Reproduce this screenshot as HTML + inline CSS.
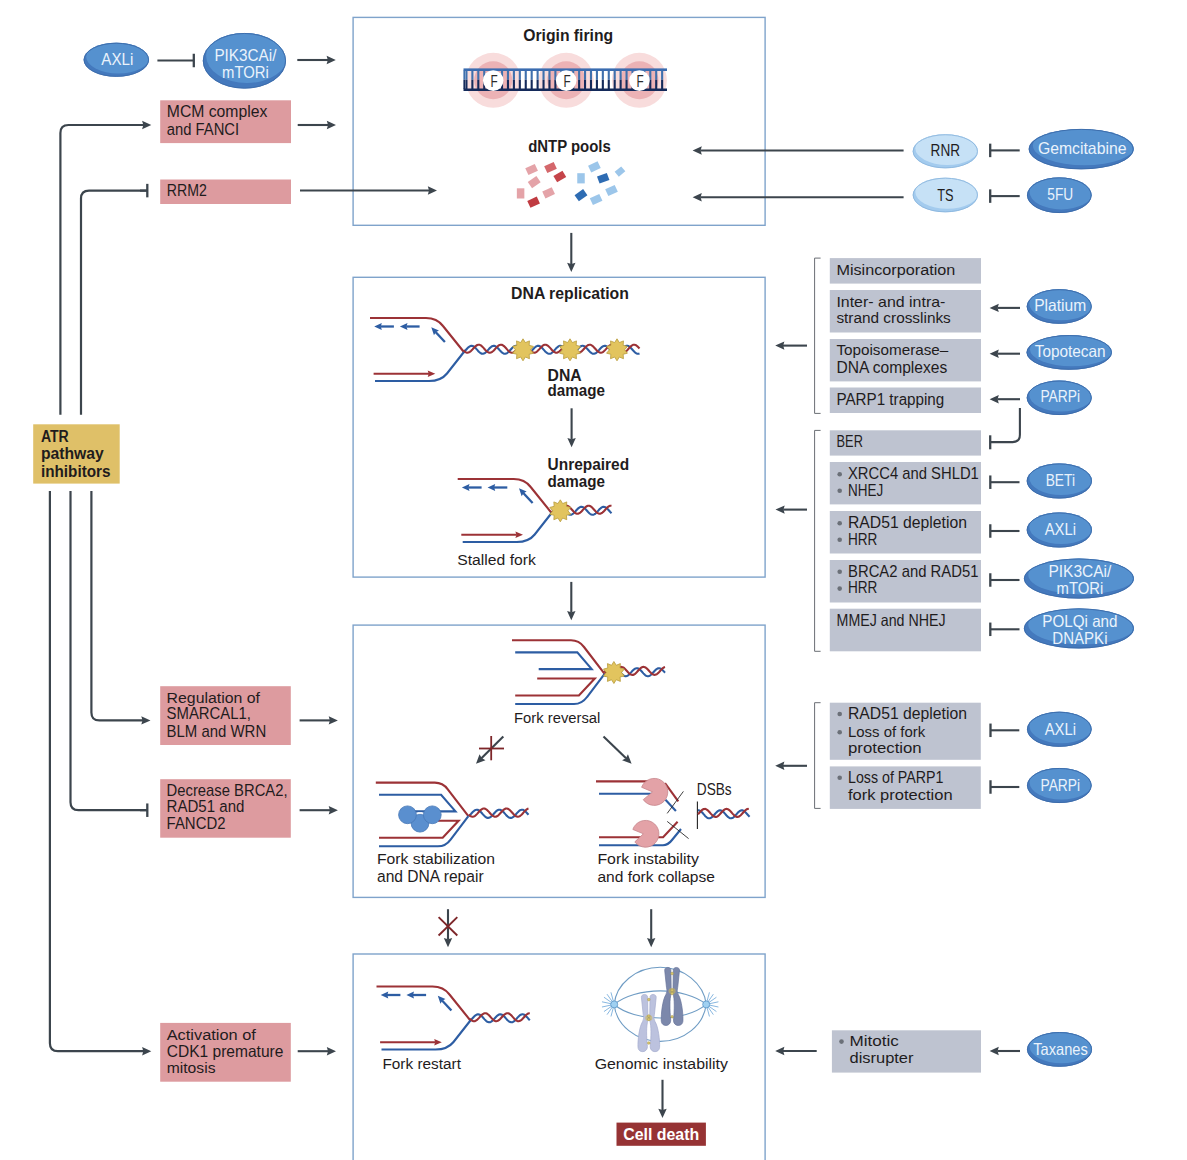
<!DOCTYPE html><html><head><meta charset="utf-8"><style>html,body{margin:0;padding:0;background:#fff;width:1187px;height:1160px;overflow:hidden}svg{display:block}text{font-family:"Liberation Sans",sans-serif}</style></head><body><svg width="1187" height="1160" viewBox="0 0 1187 1160" font-family="Liberation Sans, sans-serif">
<rect width="1187" height="1160" fill="#fff"/>
<rect x="353.1" y="17.40" width="412" height="207.90" fill="none" stroke="#7fa3cb" stroke-width="1.4"/>
<rect x="353.1" y="277.30" width="412" height="299.80" fill="none" stroke="#7fa3cb" stroke-width="1.4"/>
<rect x="353.1" y="625.10" width="412" height="272.30" fill="none" stroke="#7fa3cb" stroke-width="1.4"/>
<rect x="353.1" y="954.00" width="412" height="221.00" fill="none" stroke="#7fa3cb" stroke-width="1.4"/>
<line x1="571.30" y1="232.90" x2="571.30" y2="264.20" stroke="#3c454d" stroke-width="2.1"/>
<path d="M571.30 271.90L575.50 262.70L571.30 263.90L567.10 262.70Z" fill="#3c454d"/>
<line x1="571.30" y1="581.90" x2="571.30" y2="612.50" stroke="#3c454d" stroke-width="2.1"/>
<path d="M571.30 620.20L575.50 611.00L571.30 612.20L567.10 611.00Z" fill="#3c454d"/>
<line x1="448.00" y1="909.20" x2="448.00" y2="939.50" stroke="#3c454d" stroke-width="2.1"/>
<path d="M448.00 947.20L452.20 938.00L448.00 939.20L443.80 938.00Z" fill="#3c454d"/>
<line x1="651.20" y1="909.20" x2="651.20" y2="939.50" stroke="#3c454d" stroke-width="2.1"/>
<path d="M651.20 947.20L655.40 938.00L651.20 939.20L647.00 938.00Z" fill="#3c454d"/>
<line x1="438.6" y1="917.1" x2="457.3" y2="935.5" stroke="#7d2629" stroke-width="1.9"/>
<line x1="457.3" y1="917.1" x2="438.6" y2="935.5" stroke="#7d2629" stroke-width="1.9"/>
<clipPath id="c1"><ellipse cx="116.30" cy="59.80" rx="32.70" ry="17.00"/></clipPath>
<ellipse cx="116.30" cy="59.80" rx="32.70" ry="17.00" fill="#4479bd"/>
<ellipse clip-path="url(#c1)" cx="118.26" cy="56.74" rx="32.05" ry="16.66" fill="#5591cf"/>
<ellipse cx="116.30" cy="59.80" rx="32.25" ry="16.55" fill="none" stroke="#3b6aa8" stroke-width="0.9"/>
<text x="117.30" y="64.50" font-size="16.5" fill="#eaf3fc" text-anchor="middle" textLength="32.0" lengthAdjust="spacingAndGlyphs">AXLi</text>
<line x1="157.40" y1="60.50" x2="193.80" y2="60.50" stroke="#3c454d" stroke-width="2.1"/>
<line x1="193.80" y1="67.25" x2="193.80" y2="53.75" stroke="#3c454d" stroke-width="2.3"/>
<clipPath id="c2"><ellipse cx="244.40" cy="60.80" rx="41.60" ry="27.80"/></clipPath>
<ellipse cx="244.40" cy="60.80" rx="41.60" ry="27.80" fill="#4479bd"/>
<ellipse clip-path="url(#c2)" cx="246.90" cy="55.80" rx="40.77" ry="27.24" fill="#5591cf"/>
<ellipse cx="244.40" cy="60.80" rx="41.15" ry="27.35" fill="none" stroke="#3b6aa8" stroke-width="0.9"/>
<text x="245.40" y="61.00" font-size="16.5" fill="#eaf3fc" text-anchor="middle" textLength="62.0" lengthAdjust="spacingAndGlyphs">PIK3CAi/</text>
<text x="245.40" y="77.90" font-size="16.5" fill="#eaf3fc" text-anchor="middle" textLength="46.8" lengthAdjust="spacingAndGlyphs">mTORi</text>
<line x1="297.30" y1="60.00" x2="328.10" y2="60.00" stroke="#3c454d" stroke-width="2.1"/>
<path d="M335.80 60.00L326.60 55.80L327.80 60.00L326.60 64.20Z" fill="#3c454d"/>
<rect x="160.20" y="100.30" width="130.80" height="42.80" fill="#dd9b9f"/>
<text x="166.80" y="116.80" font-size="15.66" fill="#1f1c1d" textLength="100.5" lengthAdjust="spacingAndGlyphs">MCM complex</text>
<text x="166.80" y="134.50" font-size="16.15" fill="#1f1c1d" textLength="72.3" lengthAdjust="spacingAndGlyphs">and FANCI</text>
<line x1="297.70" y1="125.00" x2="328.30" y2="125.00" stroke="#3c454d" stroke-width="2.1"/>
<path d="M336.00 125.00L326.80 120.80L328.00 125.00L326.80 129.20Z" fill="#3c454d"/>
<rect x="160.20" y="179.50" width="130.80" height="24.50" fill="#dd9b9f"/>
<text x="166.80" y="196.20" font-size="16.72" fill="#1f1c1d" textLength="40.0" lengthAdjust="spacingAndGlyphs">RRM2</text>
<line x1="300" y1="190.5" x2="430" y2="190.5" stroke="#3c454d" stroke-width="2.1"/>
<path d="M437.00 190.50L427.80 186.30L429.00 190.50L427.80 194.70Z" fill="#3c454d"/>
<rect x="33.20" y="424.30" width="86.50" height="59.30" fill="#dfc068"/>
<text x="40.90" y="441.80" font-size="16" fill="#1f1c1d" font-weight="bold" textLength="27.9" lengthAdjust="spacingAndGlyphs">ATR</text>
<text x="40.90" y="459.30" font-size="16" fill="#1f1c1d" font-weight="bold" textLength="62.9" lengthAdjust="spacingAndGlyphs">pathway</text>
<text x="40.90" y="476.80" font-size="16" fill="#1f1c1d" font-weight="bold" textLength="69.7" lengthAdjust="spacingAndGlyphs">inhibitors</text>
<path d="M60.40 414.80L60.40 133.00Q60.40 125.00 68.40 125.00L145.00 125.00" fill="none" stroke="#3c454d" stroke-width="2.2"/>
<path d="M151.30 125.00L142.10 120.80L143.30 125.00L142.10 129.20Z" fill="#3c454d"/>
<path d="M81.00 414.80L81.00 198.60Q81.00 190.60 89.00 190.60L147.30 190.60" fill="none" stroke="#3c454d" stroke-width="2.2"/>
<line x1="140.00" y1="190.60" x2="147.30" y2="190.60" stroke="#3c454d" stroke-width="2.1"/>
<line x1="147.30" y1="197.35" x2="147.30" y2="183.85" stroke="#3c454d" stroke-width="2.3"/>
<path d="M91.40 491.00L91.40 712.40Q91.40 720.40 99.40 720.40L145.00 720.40" fill="none" stroke="#3c454d" stroke-width="2.2"/>
<path d="M150.50 720.40L141.30 716.20L142.50 720.40L141.30 724.60Z" fill="#3c454d"/>
<path d="M70.50 491.00L70.50 802.20Q70.50 810.20 78.50 810.20L147.30 810.20" fill="none" stroke="#3c454d" stroke-width="2.2"/>
<line x1="140.00" y1="810.20" x2="147.30" y2="810.20" stroke="#3c454d" stroke-width="2.1"/>
<line x1="147.30" y1="816.95" x2="147.30" y2="803.45" stroke="#3c454d" stroke-width="2.3"/>
<path d="M49.90 491.00L49.90 1043.20Q49.90 1051.20 57.90 1051.20L145.00 1051.20" fill="none" stroke="#3c454d" stroke-width="2.2"/>
<path d="M151.30 1051.20L142.10 1047.00L143.30 1051.20L142.10 1055.40Z" fill="#3c454d"/>
<rect x="160.20" y="686.20" width="130.60" height="58.80" fill="#dd9b9f"/>
<text x="166.60" y="702.80" font-size="15.33" fill="#1f1c1d" textLength="93.4" lengthAdjust="spacingAndGlyphs">Regulation of</text>
<text x="166.60" y="719.30" font-size="16.72" fill="#1f1c1d" textLength="84.4" lengthAdjust="spacingAndGlyphs">SMARCAL1,</text>
<text x="166.60" y="736.60" font-size="16.21" fill="#1f1c1d" textLength="99.6" lengthAdjust="spacingAndGlyphs">BLM and WRN</text>
<line x1="299.60" y1="720.40" x2="330.20" y2="720.40" stroke="#3c454d" stroke-width="2.1"/>
<path d="M337.90 720.40L328.70 716.20L329.90 720.40L328.70 724.60Z" fill="#3c454d"/>
<rect x="160.20" y="779.20" width="130.60" height="58.50" fill="#dd9b9f"/>
<text x="166.60" y="795.60" font-size="15.9" fill="#1f1c1d" textLength="121.0" lengthAdjust="spacingAndGlyphs">Decrease BRCA2,</text>
<text x="166.60" y="812.40" font-size="16.15" fill="#1f1c1d" textLength="77.8" lengthAdjust="spacingAndGlyphs">RAD51 and</text>
<text x="166.60" y="829.00" font-size="16.72" fill="#1f1c1d" textLength="58.9" lengthAdjust="spacingAndGlyphs">FANCD2</text>
<line x1="299.60" y1="810.20" x2="330.20" y2="810.20" stroke="#3c454d" stroke-width="2.1"/>
<path d="M337.90 810.20L328.70 806.00L329.90 810.20L328.70 814.40Z" fill="#3c454d"/>
<rect x="160.20" y="1022.90" width="130.60" height="58.80" fill="#dd9b9f"/>
<text x="166.70" y="1039.90" font-size="15.33" fill="#1f1c1d" textLength="89.2" lengthAdjust="spacingAndGlyphs">Activation of</text>
<text x="166.70" y="1057.20" font-size="15.67" fill="#1f1c1d" textLength="116.7" lengthAdjust="spacingAndGlyphs">CDK1 premature</text>
<text x="166.70" y="1073.30" font-size="15.2" fill="#1f1c1d" textLength="48.8" lengthAdjust="spacingAndGlyphs">mitosis</text>
<line x1="297.70" y1="1051.20" x2="328.30" y2="1051.20" stroke="#3c454d" stroke-width="2.1"/>
<path d="M336.00 1051.20L326.80 1047.00L328.00 1051.20L326.80 1055.40Z" fill="#3c454d"/>
<clipPath id="c3"><ellipse cx="945.30" cy="151.30" rx="32.60" ry="17.00"/></clipPath>
<ellipse cx="945.30" cy="151.30" rx="32.60" ry="17.00" fill="#a3cbee"/>
<ellipse clip-path="url(#c3)" cx="947.26" cy="148.24" rx="31.95" ry="16.66" fill="#c6e1f6"/>
<ellipse cx="945.30" cy="151.30" rx="32.15" ry="16.55" fill="none" stroke="#8cb7de" stroke-width="0.9"/>
<text x="945.30" y="156.40" font-size="16.5" fill="#1f1c1d" text-anchor="middle" textLength="29.4" lengthAdjust="spacingAndGlyphs">RNR</text>
<clipPath id="c4"><ellipse cx="945.30" cy="195.00" rx="32.60" ry="17.25"/></clipPath>
<ellipse cx="945.30" cy="195.00" rx="32.60" ry="17.25" fill="#a3cbee"/>
<ellipse clip-path="url(#c4)" cx="947.26" cy="191.90" rx="31.95" ry="16.91" fill="#c6e1f6"/>
<ellipse cx="945.30" cy="195.00" rx="32.15" ry="16.80" fill="none" stroke="#8cb7de" stroke-width="0.9"/>
<text x="945.30" y="200.60" font-size="16.5" fill="#1f1c1d" text-anchor="middle" textLength="16.3" lengthAdjust="spacingAndGlyphs">TS</text>
<line x1="903.60" y1="150.50" x2="700.30" y2="150.50" stroke="#3c454d" stroke-width="2.1"/>
<path d="M692.60 150.50L701.80 154.70L700.60 150.50L701.80 146.30Z" fill="#3c454d"/>
<line x1="903.60" y1="197.30" x2="700.30" y2="197.30" stroke="#3c454d" stroke-width="2.1"/>
<path d="M692.60 197.30L701.80 201.50L700.60 197.30L701.80 193.10Z" fill="#3c454d"/>
<line x1="1019.70" y1="150.40" x2="990.20" y2="150.40" stroke="#3c454d" stroke-width="2.1"/>
<line x1="990.20" y1="143.65" x2="990.20" y2="157.15" stroke="#3c454d" stroke-width="2.3"/>
<line x1="1019.70" y1="196.10" x2="990.20" y2="196.10" stroke="#3c454d" stroke-width="2.1"/>
<line x1="990.20" y1="189.35" x2="990.20" y2="202.85" stroke="#3c454d" stroke-width="2.3"/>
<clipPath id="c5"><ellipse cx="1081.20" cy="149.10" rx="52.50" ry="20.20"/></clipPath>
<ellipse cx="1081.20" cy="149.10" rx="52.50" ry="20.20" fill="#4479bd"/>
<ellipse clip-path="url(#c5)" cx="1084.35" cy="145.46" rx="51.45" ry="19.80" fill="#5591cf"/>
<ellipse cx="1081.20" cy="149.10" rx="52.05" ry="19.75" fill="none" stroke="#3b6aa8" stroke-width="0.9"/>
<text x="1082.20" y="153.80" font-size="16.5" fill="#eaf3fc" text-anchor="middle" textLength="88.6" lengthAdjust="spacingAndGlyphs">Gemcitabine</text>
<clipPath id="c6"><ellipse cx="1059.30" cy="195.20" rx="32.30" ry="17.80"/></clipPath>
<ellipse cx="1059.30" cy="195.20" rx="32.30" ry="17.80" fill="#4479bd"/>
<ellipse clip-path="url(#c6)" cx="1061.24" cy="192.00" rx="31.65" ry="17.44" fill="#5591cf"/>
<ellipse cx="1059.30" cy="195.20" rx="31.85" ry="17.35" fill="none" stroke="#3b6aa8" stroke-width="0.9"/>
<text x="1060.30" y="200.00" font-size="16.5" fill="#eaf3fc" text-anchor="middle" textLength="25.9" lengthAdjust="spacingAndGlyphs">5FU</text>
<path d="M820.60 258.10H814.60V413.40H820.60" fill="none" stroke="#6a6e74" stroke-width="1"/>
<path d="M820.60 430.40H814.60V651.30H820.60" fill="none" stroke="#6a6e74" stroke-width="1"/>
<path d="M820.60 702.70H814.60V808.40H820.60" fill="none" stroke="#6a6e74" stroke-width="1"/>
<rect x="829.80" y="258.10" width="151.20" height="25.50" fill="#bec3d0"/>
<rect x="829.80" y="290.00" width="151.20" height="42.50" fill="#bec3d0"/>
<rect x="829.80" y="339.00" width="151.20" height="42.40" fill="#bec3d0"/>
<rect x="829.80" y="387.50" width="151.20" height="25.50" fill="#bec3d0"/>
<text x="836.40" y="274.70" font-size="15.29" fill="#1f1c1d" textLength="119.0" lengthAdjust="spacingAndGlyphs">Misincorporation</text>
<text x="836.40" y="306.60" font-size="15.32" fill="#1f1c1d" textLength="109.0" lengthAdjust="spacingAndGlyphs">Inter- and intra-</text>
<text x="836.40" y="323.20" font-size="15.2" fill="#1f1c1d" textLength="114.4" lengthAdjust="spacingAndGlyphs">strand crosslinks</text>
<text x="836.40" y="355.00" font-size="15.32" fill="#1f1c1d" textLength="111.9" lengthAdjust="spacingAndGlyphs">Topoisomerase–</text>
<text x="836.40" y="372.50" font-size="15.58" fill="#1f1c1d" textLength="110.8" lengthAdjust="spacingAndGlyphs">DNA complexes</text>
<text x="836.40" y="404.70" font-size="15.78" fill="#1f1c1d" textLength="107.9" lengthAdjust="spacingAndGlyphs">PARP1 trapping</text>
<line x1="807.00" y1="345.60" x2="782.90" y2="345.60" stroke="#3c454d" stroke-width="2.1"/>
<path d="M775.20 345.60L784.40 349.80L783.20 345.60L784.40 341.40Z" fill="#3c454d"/>
<clipPath id="c7"><ellipse cx="1059.20" cy="306.50" rx="32.50" ry="17.30"/></clipPath>
<ellipse cx="1059.20" cy="306.50" rx="32.50" ry="17.30" fill="#4479bd"/>
<ellipse clip-path="url(#c7)" cx="1061.15" cy="303.39" rx="31.85" ry="16.95" fill="#5591cf"/>
<ellipse cx="1059.20" cy="306.50" rx="32.05" ry="16.85" fill="none" stroke="#3b6aa8" stroke-width="0.9"/>
<text x="1060.20" y="311.00" font-size="16.5" fill="#eaf3fc" text-anchor="middle" textLength="52.0" lengthAdjust="spacingAndGlyphs">Platium</text>
<clipPath id="c8"><ellipse cx="1069.20" cy="352.40" rx="42.70" ry="17.30"/></clipPath>
<ellipse cx="1069.20" cy="352.40" rx="42.70" ry="17.30" fill="#4479bd"/>
<ellipse clip-path="url(#c8)" cx="1071.76" cy="349.29" rx="41.85" ry="16.95" fill="#5591cf"/>
<ellipse cx="1069.20" cy="352.40" rx="42.25" ry="16.85" fill="none" stroke="#3b6aa8" stroke-width="0.9"/>
<text x="1070.20" y="357.00" font-size="16.5" fill="#eaf3fc" text-anchor="middle" textLength="71.0" lengthAdjust="spacingAndGlyphs">Topotecan</text>
<clipPath id="c9"><ellipse cx="1059.20" cy="397.80" rx="32.50" ry="17.20"/></clipPath>
<ellipse cx="1059.20" cy="397.80" rx="32.50" ry="17.20" fill="#4479bd"/>
<ellipse clip-path="url(#c9)" cx="1061.15" cy="394.70" rx="31.85" ry="16.86" fill="#5591cf"/>
<ellipse cx="1059.20" cy="397.80" rx="32.05" ry="16.75" fill="none" stroke="#3b6aa8" stroke-width="0.9"/>
<text x="1060.20" y="402.40" font-size="16.5" fill="#eaf3fc" text-anchor="middle" textLength="39.6" lengthAdjust="spacingAndGlyphs">PARPi</text>
<line x1="1020.00" y1="307.90" x2="997.30" y2="307.90" stroke="#3c454d" stroke-width="2.1"/>
<path d="M989.60 307.90L998.80 312.10L997.60 307.90L998.80 303.70Z" fill="#3c454d"/>
<line x1="1020.00" y1="353.70" x2="997.30" y2="353.70" stroke="#3c454d" stroke-width="2.1"/>
<path d="M989.60 353.70L998.80 357.90L997.60 353.70L998.80 349.50Z" fill="#3c454d"/>
<line x1="1020.00" y1="399.20" x2="997.30" y2="399.20" stroke="#3c454d" stroke-width="2.1"/>
<path d="M989.60 399.20L998.80 403.40L997.60 399.20L998.80 395.00Z" fill="#3c454d"/>
<path d="M1019.9 408V434.8Q1019.9 442.1 1012.6 442.1H990" fill="none" stroke="#3c454d" stroke-width="2.1"/>
<line x1="990.2" y1="435.3" x2="990.2" y2="449.3" stroke="#3c454d" stroke-width="2.3"/>
<rect x="829.80" y="430.30" width="151.20" height="25.30" fill="#bec3d0"/>
<rect x="829.80" y="462.00" width="151.20" height="42.40" fill="#bec3d0"/>
<rect x="829.80" y="511.00" width="151.20" height="42.50" fill="#bec3d0"/>
<rect x="829.80" y="560.00" width="151.20" height="42.50" fill="#bec3d0"/>
<rect x="829.80" y="608.70" width="151.20" height="42.60" fill="#bec3d0"/>
<text x="836.60" y="446.50" font-size="16.72" fill="#1f1c1d" textLength="26.3" lengthAdjust="spacingAndGlyphs">BER</text>
<circle cx="839.70" cy="474.20" r="2.3" fill="#6b7078"/>
<text x="848.00" y="479.00" font-size="16.37" fill="#1f1c1d" textLength="130.8" lengthAdjust="spacingAndGlyphs">XRCC4 and SHLD1</text>
<circle cx="839.70" cy="490.70" r="2.3" fill="#6b7078"/>
<text x="848.00" y="495.50" font-size="16.72" fill="#1f1c1d" textLength="35.2" lengthAdjust="spacingAndGlyphs">NHEJ</text>
<circle cx="839.70" cy="523.20" r="2.3" fill="#6b7078"/>
<text x="848.00" y="528.00" font-size="15.74" fill="#1f1c1d" textLength="119.0" lengthAdjust="spacingAndGlyphs">RAD51 depletion</text>
<circle cx="839.70" cy="539.80" r="2.3" fill="#6b7078"/>
<text x="848.00" y="544.60" font-size="16.72" fill="#1f1c1d" textLength="29.4" lengthAdjust="spacingAndGlyphs">HRR</text>
<circle cx="839.70" cy="571.80" r="2.3" fill="#6b7078"/>
<text x="848.00" y="576.60" font-size="16.37" fill="#1f1c1d" textLength="130.4" lengthAdjust="spacingAndGlyphs">BRCA2 and RAD51</text>
<circle cx="839.70" cy="588.60" r="2.3" fill="#6b7078"/>
<text x="848.00" y="593.40" font-size="16.72" fill="#1f1c1d" textLength="29.4" lengthAdjust="spacingAndGlyphs">HRR</text>
<text x="836.60" y="625.90" font-size="16.31" fill="#1f1c1d" textLength="109.0" lengthAdjust="spacingAndGlyphs">MMEJ and NHEJ</text>
<line x1="807.00" y1="509.60" x2="783.20" y2="509.60" stroke="#3c454d" stroke-width="2.1"/>
<path d="M775.50 509.60L784.70 513.80L783.50 509.60L784.70 505.40Z" fill="#3c454d"/>
<line x1="1019.50" y1="482.20" x2="990.30" y2="482.20" stroke="#3c454d" stroke-width="2.1"/>
<line x1="990.30" y1="475.45" x2="990.30" y2="488.95" stroke="#3c454d" stroke-width="2.3"/>
<line x1="1019.50" y1="531.00" x2="990.30" y2="531.00" stroke="#3c454d" stroke-width="2.1"/>
<line x1="990.30" y1="524.25" x2="990.30" y2="537.75" stroke="#3c454d" stroke-width="2.3"/>
<line x1="1019.50" y1="580.00" x2="990.30" y2="580.00" stroke="#3c454d" stroke-width="2.1"/>
<line x1="990.30" y1="573.25" x2="990.30" y2="586.75" stroke="#3c454d" stroke-width="2.3"/>
<line x1="1019.50" y1="629.30" x2="990.30" y2="629.30" stroke="#3c454d" stroke-width="2.1"/>
<line x1="990.30" y1="622.55" x2="990.30" y2="636.05" stroke="#3c454d" stroke-width="2.3"/>
<clipPath id="c10"><ellipse cx="1059.30" cy="481.00" rx="32.60" ry="17.50"/></clipPath>
<ellipse cx="1059.30" cy="481.00" rx="32.60" ry="17.50" fill="#4479bd"/>
<ellipse clip-path="url(#c10)" cx="1061.26" cy="477.85" rx="31.95" ry="17.15" fill="#5591cf"/>
<ellipse cx="1059.30" cy="481.00" rx="32.15" ry="17.05" fill="none" stroke="#3b6aa8" stroke-width="0.9"/>
<text x="1060.30" y="486.00" font-size="16.5" fill="#eaf3fc" text-anchor="middle" textLength="29.3" lengthAdjust="spacingAndGlyphs">BETi</text>
<clipPath id="c11"><ellipse cx="1059.30" cy="530.00" rx="32.60" ry="17.50"/></clipPath>
<ellipse cx="1059.30" cy="530.00" rx="32.60" ry="17.50" fill="#4479bd"/>
<ellipse clip-path="url(#c11)" cx="1061.26" cy="526.85" rx="31.95" ry="17.15" fill="#5591cf"/>
<ellipse cx="1059.30" cy="530.00" rx="32.15" ry="17.05" fill="none" stroke="#3b6aa8" stroke-width="0.9"/>
<text x="1060.30" y="534.80" font-size="16.5" fill="#eaf3fc" text-anchor="middle" textLength="31.3" lengthAdjust="spacingAndGlyphs">AXLi</text>
<clipPath id="c12"><ellipse cx="1078.90" cy="578.60" rx="55.00" ry="20.00"/></clipPath>
<ellipse cx="1078.90" cy="578.60" rx="55.00" ry="20.00" fill="#4479bd"/>
<ellipse clip-path="url(#c12)" cx="1082.20" cy="575.00" rx="53.90" ry="19.60" fill="#5591cf"/>
<ellipse cx="1078.90" cy="578.60" rx="54.55" ry="19.55" fill="none" stroke="#3b6aa8" stroke-width="0.9"/>
<text x="1079.90" y="576.80" font-size="16.5" fill="#eaf3fc" text-anchor="middle" textLength="63.0" lengthAdjust="spacingAndGlyphs">PIK3CAi/</text>
<text x="1079.90" y="594.00" font-size="16.5" fill="#eaf3fc" text-anchor="middle" textLength="46.7" lengthAdjust="spacingAndGlyphs">mTORi</text>
<clipPath id="c13"><ellipse cx="1078.90" cy="628.40" rx="55.00" ry="20.00"/></clipPath>
<ellipse cx="1078.90" cy="628.40" rx="55.00" ry="20.00" fill="#4479bd"/>
<ellipse clip-path="url(#c13)" cx="1082.20" cy="624.80" rx="53.90" ry="19.60" fill="#5591cf"/>
<ellipse cx="1078.90" cy="628.40" rx="54.55" ry="19.55" fill="none" stroke="#3b6aa8" stroke-width="0.9"/>
<text x="1079.90" y="626.50" font-size="16.5" fill="#eaf3fc" text-anchor="middle" textLength="75.2" lengthAdjust="spacingAndGlyphs">POLQi and</text>
<text x="1079.90" y="643.50" font-size="16.5" fill="#eaf3fc" text-anchor="middle" textLength="55.2" lengthAdjust="spacingAndGlyphs">DNAPKi</text>
<rect x="829.80" y="702.70" width="151.00" height="57.10" fill="#bec3d0"/>
<rect x="829.80" y="766.40" width="151.00" height="42.50" fill="#bec3d0"/>
<circle cx="839.70" cy="714.00" r="2.3" fill="#6b7078"/>
<text x="848.00" y="718.80" font-size="15.74" fill="#1f1c1d" textLength="119.0" lengthAdjust="spacingAndGlyphs">RAD51 depletion</text>
<circle cx="839.70" cy="732.20" r="2.3" fill="#6b7078"/>
<text x="848.00" y="737.00" font-size="15.35" fill="#1f1c1d" textLength="77.2" lengthAdjust="spacingAndGlyphs">Loss of fork</text>
<text x="848.00" y="753.20" font-size="15.2" fill="#1f1c1d" textLength="73.7" lengthAdjust="spacingAndGlyphs">protection</text>
<circle cx="839.70" cy="777.70" r="2.3" fill="#6b7078"/>
<text x="848.00" y="782.50" font-size="16.03" fill="#1f1c1d" textLength="95.5" lengthAdjust="spacingAndGlyphs">Loss of PARP1</text>
<text x="848.00" y="799.80" font-size="15.2" fill="#1f1c1d" textLength="104.6" lengthAdjust="spacingAndGlyphs">fork protection</text>
<line x1="807.00" y1="765.80" x2="782.90" y2="765.80" stroke="#3c454d" stroke-width="2.1"/>
<path d="M775.20 765.80L784.40 770.00L783.20 765.80L784.40 761.60Z" fill="#3c454d"/>
<line x1="1019.30" y1="730.30" x2="990.50" y2="730.30" stroke="#3c454d" stroke-width="2.1"/>
<line x1="990.50" y1="723.55" x2="990.50" y2="737.05" stroke="#3c454d" stroke-width="2.3"/>
<line x1="1019.30" y1="787.00" x2="990.50" y2="787.00" stroke="#3c454d" stroke-width="2.1"/>
<line x1="990.50" y1="780.25" x2="990.50" y2="793.75" stroke="#3c454d" stroke-width="2.3"/>
<clipPath id="c14"><ellipse cx="1059.30" cy="729.30" rx="32.30" ry="17.50"/></clipPath>
<ellipse cx="1059.30" cy="729.30" rx="32.30" ry="17.50" fill="#4479bd"/>
<ellipse clip-path="url(#c14)" cx="1061.24" cy="726.15" rx="31.65" ry="17.15" fill="#5591cf"/>
<ellipse cx="1059.30" cy="729.30" rx="31.85" ry="17.05" fill="none" stroke="#3b6aa8" stroke-width="0.9"/>
<text x="1060.30" y="735.00" font-size="16.5" fill="#eaf3fc" text-anchor="middle" textLength="31.3" lengthAdjust="spacingAndGlyphs">AXLi</text>
<clipPath id="c15"><ellipse cx="1059.30" cy="785.50" rx="32.30" ry="17.50"/></clipPath>
<ellipse cx="1059.30" cy="785.50" rx="32.30" ry="17.50" fill="#4479bd"/>
<ellipse clip-path="url(#c15)" cx="1061.24" cy="782.35" rx="31.65" ry="17.15" fill="#5591cf"/>
<ellipse cx="1059.30" cy="785.50" rx="31.85" ry="17.05" fill="none" stroke="#3b6aa8" stroke-width="0.9"/>
<text x="1060.30" y="791.20" font-size="16.5" fill="#eaf3fc" text-anchor="middle" textLength="39.6" lengthAdjust="spacingAndGlyphs">PARPi</text>
<rect x="831.90" y="1030.30" width="149.10" height="42.30" fill="#bec3d0"/>
<circle cx="841.50" cy="1041.60" r="2.3" fill="#6b7078"/>
<text x="849.50" y="1046.40" font-size="15.42" fill="#1f1c1d" textLength="49.4" lengthAdjust="spacingAndGlyphs">Mitotic</text>
<text x="849.50" y="1063.00" font-size="15.2" fill="#1f1c1d" textLength="64.0" lengthAdjust="spacingAndGlyphs">disrupter</text>
<line x1="816.70" y1="1051.00" x2="782.90" y2="1051.00" stroke="#3c454d" stroke-width="2.1"/>
<path d="M775.20 1051.00L784.40 1055.20L783.20 1051.00L784.40 1046.80Z" fill="#3c454d"/>
<line x1="1020.00" y1="1051.00" x2="997.30" y2="1051.00" stroke="#3c454d" stroke-width="2.1"/>
<path d="M989.60 1051.00L998.80 1055.20L997.60 1051.00L998.80 1046.80Z" fill="#3c454d"/>
<clipPath id="c16"><ellipse cx="1059.50" cy="1049.40" rx="32.50" ry="17.30"/></clipPath>
<ellipse cx="1059.50" cy="1049.40" rx="32.50" ry="17.30" fill="#4479bd"/>
<ellipse clip-path="url(#c16)" cx="1061.45" cy="1046.29" rx="31.85" ry="16.95" fill="#5591cf"/>
<ellipse cx="1059.50" cy="1049.40" rx="32.05" ry="16.85" fill="none" stroke="#3b6aa8" stroke-width="0.9"/>
<text x="1060.50" y="1055.00" font-size="16.5" fill="#eaf3fc" text-anchor="middle" textLength="54.6" lengthAdjust="spacingAndGlyphs">Taxanes</text>
<text x="568.20" y="41.20" font-size="16" fill="#1f1c1d" font-weight="bold" text-anchor="middle" textLength="90.0" lengthAdjust="spacingAndGlyphs">Origin firing</text>
<circle cx="493.20" cy="80.3" r="27.5" fill="#f8dcdc"/>
<circle cx="493.20" cy="80.3" r="19" fill="#ecb2b5"/>
<circle cx="566.20" cy="80.3" r="27.5" fill="#f8dcdc"/>
<circle cx="566.20" cy="80.3" r="19" fill="#ecb2b5"/>
<circle cx="639.40" cy="80.3" r="27.5" fill="#f8dcdc"/>
<circle cx="639.40" cy="80.3" r="19" fill="#ecb2b5"/>
<rect x="463.4" y="70.5" width="1.8" height="9.3" fill="#3f70ad"/><rect x="463.4" y="79.8" width="1.8" height="9.2" fill="#142a5a"/>
<rect x="465.40" y="70.5" width="2.1" height="9.3" fill="#3f70ad"/>
<rect x="465.40" y="79.8" width="2.1" height="9.2" fill="#142a5a"/>
<rect x="471.33" y="70.5" width="2.1" height="9.3" fill="#3f70ad"/>
<rect x="471.33" y="79.8" width="2.1" height="9.2" fill="#142a5a"/>
<rect x="477.26" y="70.5" width="2.1" height="9.3" fill="#3f70ad"/>
<rect x="477.26" y="79.8" width="2.1" height="9.2" fill="#142a5a"/>
<rect x="483.19" y="70.5" width="2.1" height="9.3" fill="#3f70ad"/>
<rect x="483.19" y="79.8" width="2.1" height="9.2" fill="#142a5a"/>
<rect x="489.12" y="70.5" width="2.1" height="9.3" fill="#3f70ad"/>
<rect x="489.12" y="79.8" width="2.1" height="9.2" fill="#142a5a"/>
<rect x="495.05" y="70.5" width="2.1" height="9.3" fill="#3f70ad"/>
<rect x="495.05" y="79.8" width="2.1" height="9.2" fill="#142a5a"/>
<rect x="500.98" y="70.5" width="2.1" height="9.3" fill="#3f70ad"/>
<rect x="500.98" y="79.8" width="2.1" height="9.2" fill="#142a5a"/>
<rect x="506.91" y="70.5" width="2.1" height="9.3" fill="#3f70ad"/>
<rect x="506.91" y="79.8" width="2.1" height="9.2" fill="#142a5a"/>
<rect x="512.84" y="70.5" width="2.1" height="9.3" fill="#3f70ad"/>
<rect x="512.84" y="79.8" width="2.1" height="9.2" fill="#142a5a"/>
<rect x="518.77" y="70.5" width="2.1" height="9.3" fill="#3f70ad"/>
<rect x="518.77" y="79.8" width="2.1" height="9.2" fill="#142a5a"/>
<rect x="524.70" y="70.5" width="2.1" height="9.3" fill="#3f70ad"/>
<rect x="524.70" y="79.8" width="2.1" height="9.2" fill="#142a5a"/>
<rect x="530.63" y="70.5" width="2.1" height="9.3" fill="#3f70ad"/>
<rect x="530.63" y="79.8" width="2.1" height="9.2" fill="#142a5a"/>
<rect x="536.56" y="70.5" width="2.1" height="9.3" fill="#3f70ad"/>
<rect x="536.56" y="79.8" width="2.1" height="9.2" fill="#142a5a"/>
<rect x="542.49" y="70.5" width="2.1" height="9.3" fill="#3f70ad"/>
<rect x="542.49" y="79.8" width="2.1" height="9.2" fill="#142a5a"/>
<rect x="548.42" y="70.5" width="2.1" height="9.3" fill="#3f70ad"/>
<rect x="548.42" y="79.8" width="2.1" height="9.2" fill="#142a5a"/>
<rect x="554.35" y="70.5" width="2.1" height="9.3" fill="#3f70ad"/>
<rect x="554.35" y="79.8" width="2.1" height="9.2" fill="#142a5a"/>
<rect x="560.28" y="70.5" width="2.1" height="9.3" fill="#3f70ad"/>
<rect x="560.28" y="79.8" width="2.1" height="9.2" fill="#142a5a"/>
<rect x="566.21" y="70.5" width="2.1" height="9.3" fill="#3f70ad"/>
<rect x="566.21" y="79.8" width="2.1" height="9.2" fill="#142a5a"/>
<rect x="572.14" y="70.5" width="2.1" height="9.3" fill="#3f70ad"/>
<rect x="572.14" y="79.8" width="2.1" height="9.2" fill="#142a5a"/>
<rect x="578.07" y="70.5" width="2.1" height="9.3" fill="#3f70ad"/>
<rect x="578.07" y="79.8" width="2.1" height="9.2" fill="#142a5a"/>
<rect x="584.00" y="70.5" width="2.1" height="9.3" fill="#3f70ad"/>
<rect x="584.00" y="79.8" width="2.1" height="9.2" fill="#142a5a"/>
<rect x="589.93" y="70.5" width="2.1" height="9.3" fill="#3f70ad"/>
<rect x="589.93" y="79.8" width="2.1" height="9.2" fill="#142a5a"/>
<rect x="595.86" y="70.5" width="2.1" height="9.3" fill="#3f70ad"/>
<rect x="595.86" y="79.8" width="2.1" height="9.2" fill="#142a5a"/>
<rect x="601.79" y="70.5" width="2.1" height="9.3" fill="#3f70ad"/>
<rect x="601.79" y="79.8" width="2.1" height="9.2" fill="#142a5a"/>
<rect x="607.72" y="70.5" width="2.1" height="9.3" fill="#3f70ad"/>
<rect x="607.72" y="79.8" width="2.1" height="9.2" fill="#142a5a"/>
<rect x="613.65" y="70.5" width="2.1" height="9.3" fill="#3f70ad"/>
<rect x="613.65" y="79.8" width="2.1" height="9.2" fill="#142a5a"/>
<rect x="619.58" y="70.5" width="2.1" height="9.3" fill="#3f70ad"/>
<rect x="619.58" y="79.8" width="2.1" height="9.2" fill="#142a5a"/>
<rect x="625.51" y="70.5" width="2.1" height="9.3" fill="#3f70ad"/>
<rect x="625.51" y="79.8" width="2.1" height="9.2" fill="#142a5a"/>
<rect x="631.44" y="70.5" width="2.1" height="9.3" fill="#3f70ad"/>
<rect x="631.44" y="79.8" width="2.1" height="9.2" fill="#142a5a"/>
<rect x="637.37" y="70.5" width="2.1" height="9.3" fill="#3f70ad"/>
<rect x="637.37" y="79.8" width="2.1" height="9.2" fill="#142a5a"/>
<rect x="643.30" y="70.5" width="2.1" height="9.3" fill="#3f70ad"/>
<rect x="643.30" y="79.8" width="2.1" height="9.2" fill="#142a5a"/>
<rect x="649.23" y="70.5" width="2.1" height="9.3" fill="#3f70ad"/>
<rect x="649.23" y="79.8" width="2.1" height="9.2" fill="#142a5a"/>
<rect x="655.16" y="70.5" width="2.1" height="9.3" fill="#3f70ad"/>
<rect x="655.16" y="79.8" width="2.1" height="9.2" fill="#142a5a"/>
<rect x="661.09" y="70.5" width="2.1" height="9.3" fill="#3f70ad"/>
<rect x="661.09" y="79.8" width="2.1" height="9.2" fill="#142a5a"/>
<rect x="463.5" y="68.4" width="203.5" height="2.6" fill="#3a6cb0"/>
<rect x="463.5" y="88.5" width="203.5" height="2.5" fill="#142a5a"/>
<circle cx="493.20" cy="80.6" r="10.3" fill="#fff"/>
<text x="494.00" y="86.80" font-size="16.5" fill="#2b2b2b" text-anchor="middle" textLength="7.2" lengthAdjust="spacingAndGlyphs">F</text>
<circle cx="566.20" cy="80.6" r="10.3" fill="#fff"/>
<text x="567.00" y="86.80" font-size="16.5" fill="#2b2b2b" text-anchor="middle" textLength="7.2" lengthAdjust="spacingAndGlyphs">F</text>
<circle cx="639.40" cy="80.6" r="10.3" fill="#fff"/>
<text x="640.20" y="86.80" font-size="16.5" fill="#2b2b2b" text-anchor="middle" textLength="7.2" lengthAdjust="spacingAndGlyphs">F</text>
<text x="569.50" y="152.00" font-size="16" fill="#1f1c1d" font-weight="bold" text-anchor="middle" textLength="82.6" lengthAdjust="spacingAndGlyphs">dNTP pools</text>
<rect x="526.35" y="165.75" width="10.50" height="7.50" fill="#e4a3a8" transform="rotate(-25 531.60 169.50)"/>
<rect x="545.25" y="163.75" width="10.50" height="7.50" fill="#d4676b" transform="rotate(-25 550.50 167.50)"/>
<rect x="554.55" y="172.75" width="10.50" height="7.50" fill="#c54449" transform="rotate(-30 559.80 176.50)"/>
<rect x="528.95" y="178.35" width="10.50" height="7.50" fill="#e4a3a8" transform="rotate(-35 534.20 182.10)"/>
<rect x="516.85" y="188.30" width="7.50" height="10.20" fill="#e4a3a8" transform="rotate(0 520.60 193.40)"/>
<rect x="543.35" y="189.05" width="10.50" height="7.50" fill="#e4a3a8" transform="rotate(-25 548.60 192.80)"/>
<rect x="528.35" y="198.45" width="10.50" height="7.50" fill="#c03b41" transform="rotate(-25 533.60 202.20)"/>
<rect x="589.15" y="163.15" width="10.50" height="7.50" fill="#9cc6ea" transform="rotate(-25 594.40 166.90)"/>
<rect x="615.75" y="168.35" width="8.50" height="6.50" fill="#9cc6ea" transform="rotate(-40 620.00 171.60)"/>
<rect x="577.25" y="173.20" width="7.50" height="10.20" fill="#9cc6ea" transform="rotate(0 581.00 178.30)"/>
<rect x="597.95" y="174.55" width="10.50" height="7.50" fill="#2e6cb3" transform="rotate(-20 603.20 178.30)"/>
<rect x="575.75" y="191.45" width="10.50" height="7.50" fill="#2e6cb3" transform="rotate(-35 581.00 195.20)"/>
<rect x="606.25" y="186.75" width="10.50" height="7.50" fill="#9cc6ea" transform="rotate(-25 611.50 190.50)"/>
<rect x="590.85" y="195.75" width="10.50" height="7.50" fill="#9cc6ea" transform="rotate(-25 596.10 199.50)"/>
<text x="570.00" y="298.90" font-size="16" fill="#1f1c1d" font-weight="bold" text-anchor="middle" textLength="117.8" lengthAdjust="spacingAndGlyphs">DNA replication</text>
<path d="M370.00 318.00H426.00Q437.00 318.00 443.00 326.00L464.30 352.50" fill="none" stroke="#9c3236" stroke-width="2.1"/>
<path d="M375.00 381.00H429.00Q441.00 381.00 447.00 373.50L464.30 351.50" fill="none" stroke="#2d5da3" stroke-width="2.1"/>
<line x1="373.60" y1="373.80" x2="429.00" y2="373.80" stroke="#9c3236" stroke-width="2.1"/>
<path d="M435.30 373.80L427.70 370.50L428.70 373.80L427.70 377.10Z" fill="#9c3236"/>
<line x1="393.90" y1="326.50" x2="380.50" y2="326.50" stroke="#2d5da3" stroke-width="2.3"/>
<path d="M374.20 326.50L381.80 329.90L380.80 326.50L381.80 323.10Z" fill="#2d5da3"/>
<line x1="419.60" y1="326.50" x2="406.20" y2="326.50" stroke="#2d5da3" stroke-width="2.3"/>
<path d="M399.90 326.50L407.50 329.90L406.50 326.50L407.50 323.10Z" fill="#2d5da3"/>
<line x1="444.90" y1="342.00" x2="435.58" y2="331.92" stroke="#2d5da3" stroke-width="2.3"/>
<path d="M431.30 327.30L433.97 335.19L435.78 332.14L438.96 330.57Z" fill="#2d5da3"/>
<path d="M463.50 352.44L464.20 351.80L464.90 351.08L465.60 350.31L466.29 349.52L466.99 348.75L467.69 348.01L468.39 347.34L469.09 346.77L469.79 346.32L470.48 346.00L471.18 345.83L471.88 345.81L472.58 345.95L473.28 346.24L473.98 346.67L474.67 347.22L475.37 347.87L476.07 348.60L476.77 349.37L477.47 350.16L478.17 350.94L478.87 351.67L479.56 352.32L480.26 352.88L480.96 353.32L481.66 353.63L482.36 353.78L483.06 353.78L483.75 353.62L484.45 353.32L485.15 352.88L485.85 352.31L486.55 351.65L487.25 350.92L487.94 350.15L488.64 349.36L489.34 348.58L490.04 347.86L490.74 347.21L491.44 346.66L492.13 346.24L492.83 345.95L493.53 345.81L494.23 345.83L494.93 346.00L495.63 346.32L496.33 346.78L497.02 347.35L497.72 348.02L498.42 348.76L499.12 349.54L499.82 350.33L500.52 351.10L501.21 351.81L501.91 352.45L502.61 352.99L503.31 353.40L504.01 353.67L504.71 353.79L505.40 353.76L506.10 353.57L506.80 353.23L507.50 352.76L508.20 352.18L508.90 351.50L509.60 350.76L510.29 349.98L510.99 349.19L511.69 348.42L512.39 347.71L513.09 347.08L513.79 346.56L514.48 346.16L515.18 345.91L515.88 345.80L516.58 345.85L517.28 346.06L517.98 346.41L518.67 346.89L519.37 347.49L520.07 348.17L520.77 348.92L521.47 349.71L522.17 350.49L522.87 351.25L523.56 351.96L524.26 352.58L524.96 353.09L525.66 353.47L526.36 353.71L527.06 353.80L527.75 353.73L528.45 353.51L529.15 353.14L529.85 352.65L530.55 352.04L531.25 351.35L531.94 350.59L532.64 349.81L533.34 349.02L534.04 348.27L534.74 347.57L535.44 346.96L536.13 346.46L536.83 346.10L537.53 345.87L538.23 345.80L538.93 345.88L539.63 346.12L540.33 346.50L541.02 347.01L541.72 347.63L542.42 348.33L543.12 349.09L543.82 349.88L544.52 350.66L545.21 351.41L545.91 352.10L546.61 352.70L547.31 353.18L548.01 353.54L548.71 353.74L549.40 353.80L550.10 353.70L550.80 353.44L551.50 353.05L552.20 352.53L552.90 351.90L553.60 351.19L554.29 350.43L554.99 349.64L555.69 348.86L556.39 348.11L557.09 347.43L557.79 346.85L558.48 346.37L559.18 346.04L559.88 345.84L560.58 345.81L561.28 345.92L561.98 346.19L562.67 346.60L563.37 347.13L564.07 347.77L564.77 348.49L565.47 349.26L566.17 350.05L566.87 350.82L567.56 351.56L568.26 352.23L568.96 352.81L569.66 353.27L570.36 353.59L571.06 353.77L571.75 353.79L572.45 353.66L573.15 353.37L573.85 352.95L574.55 352.40L575.25 351.75L575.94 351.03L576.64 350.26L577.34 349.47L578.04 348.69L578.74 347.96L579.44 347.30L580.13 346.73L580.83 346.29L581.53 345.98L582.23 345.82L582.93 345.82L583.63 345.97L584.33 346.27L585.02 346.70L585.72 347.26L586.42 347.92L587.12 348.65L587.82 349.42L588.52 350.21L589.21 350.99L589.91 351.71L590.61 352.37L591.31 352.92L592.01 353.35L592.71 353.64L593.40 353.79L594.10 353.77L594.80 353.61L595.50 353.29L596.20 352.84L596.90 352.27L597.60 351.61L598.29 350.87L598.99 350.09L599.69 349.30L600.39 348.53L601.09 347.81L601.79 347.17L602.48 346.63L603.18 346.21L603.88 345.93L604.58 345.81L605.28 345.84L605.98 346.02L606.67 346.35L607.37 346.81L608.07 347.40L608.77 348.07L609.47 348.81L610.17 349.59L610.87 350.38L611.56 351.15L612.26 351.86L612.96 352.49L613.66 353.02L614.36 353.42L615.06 353.69L615.75 353.80L616.45 353.75L617.15 353.55L617.85 353.21L618.55 352.73L619.25 352.14L619.94 351.45L620.64 350.71L621.34 349.92L622.04 349.14L622.74 348.37L623.44 347.67L624.13 347.04L624.83 346.53L625.53 346.14L626.23 345.89L626.93 345.80L627.63 345.86L628.33 346.08L629.02 346.44L629.72 346.93L630.42 347.53L631.12 348.22L631.82 348.98L632.52 349.76L633.21 350.55L633.91 351.30L634.61 352.00L635.31 352.62L636.01 353.12L636.71 353.49L637.40 353.72L638.10 353.80L638.80 353.72L639.50 353.49" fill="none" stroke="#2d5da3" stroke-width="2.1"/>
<path d="M463.50 350.30L464.20 350.99L464.90 351.59L465.60 352.07L466.29 352.43L466.99 352.64L467.69 352.70L468.39 352.60L469.09 352.35L469.79 351.96L470.48 351.44L471.18 350.81L471.88 350.11L472.58 349.34L473.28 348.56L473.98 347.77L474.67 347.03L475.37 346.35L476.07 345.76L476.77 345.28L477.47 344.94L478.17 344.75L478.87 344.70L479.56 344.82L480.26 345.08L480.96 345.49L481.66 346.02L482.36 346.66L483.06 347.37L483.75 348.14L484.45 348.93L485.15 349.71L485.85 350.45L486.55 351.12L487.25 351.70L487.94 352.16L488.64 352.49L489.34 352.67L490.04 352.69L490.74 352.56L491.44 352.28L492.13 351.86L492.83 351.31L493.53 350.67L494.23 349.95L494.93 349.18L495.63 348.39L496.33 347.61L497.02 346.88L497.72 346.21L498.42 345.65L499.12 345.20L499.82 344.89L500.52 344.72L501.21 344.72L501.91 344.86L502.61 345.16L503.31 345.59L504.01 346.15L504.71 346.81L505.40 347.53L506.10 348.31L506.80 349.10L507.50 349.87L508.20 350.60L508.90 351.25L509.60 351.81L510.29 352.24L510.99 352.54L511.69 352.68L512.39 352.68L513.09 352.51L513.79 352.20L514.48 351.75L515.18 351.18L515.88 350.52L516.58 349.79L517.28 349.01L517.98 348.22L518.67 347.45L519.37 346.73L520.07 346.08L520.77 345.54L521.47 345.12L522.17 344.84L522.87 344.71L523.56 344.73L524.26 344.91L524.96 345.24L525.66 345.70L526.36 346.28L527.06 346.96L527.75 347.70L528.45 348.48L529.15 349.27L529.85 350.03L530.55 350.75L531.25 351.38L531.94 351.91L532.64 352.32L533.34 352.58L534.04 352.70L534.74 352.65L535.44 352.46L536.13 352.12L536.83 351.64L537.53 351.05L538.23 350.37L538.93 349.62L539.63 348.84L540.33 348.05L541.02 347.29L541.72 346.58L542.42 345.96L543.12 345.44L543.82 345.05L544.52 344.80L545.21 344.70L545.91 344.76L546.61 344.97L547.31 345.33L548.01 345.82L548.71 346.42L549.40 347.11L550.10 347.86L550.80 348.65L551.50 349.43L552.20 350.19L552.90 350.89L553.60 351.50L554.29 352.01L554.99 352.39L555.69 352.62L556.39 352.70L557.09 352.62L557.79 352.40L558.48 352.02L559.18 351.52L559.88 350.91L560.58 350.21L561.28 349.46L561.98 348.67L562.67 347.89L563.37 347.13L564.07 346.44L564.77 345.84L565.47 345.34L566.17 344.98L566.87 344.76L567.56 344.70L568.26 344.79L568.96 345.04L569.66 345.42L570.36 345.94L571.06 346.56L571.75 347.27L572.45 348.03L573.15 348.81L573.85 349.60L574.55 350.35L575.25 351.03L575.94 351.62L576.64 352.10L577.34 352.45L578.04 352.65L578.74 352.70L579.44 352.59L580.13 352.33L580.83 351.93L581.53 351.40L582.23 350.77L582.93 350.06L583.63 349.29L584.33 348.50L585.02 347.72L585.72 346.98L586.42 346.30L587.12 345.72L587.82 345.25L588.52 344.92L589.21 344.74L589.91 344.71L590.61 344.83L591.31 345.11L592.01 345.52L592.71 346.06L593.40 346.70L594.10 347.42L594.80 348.19L595.50 348.98L596.20 349.76L596.90 350.50L597.60 351.16L598.29 351.74L598.99 352.19L599.69 352.50L600.39 352.67L601.09 352.69L601.79 352.55L602.48 352.25L603.18 351.82L603.88 351.27L604.58 350.62L605.28 349.90L605.98 349.12L606.67 348.33L607.37 347.56L608.07 346.83L608.77 346.17L609.47 345.61L610.17 345.17L610.87 344.87L611.56 344.72L612.26 344.72L612.96 344.88L613.66 345.19L614.36 345.63L615.06 346.19L615.75 346.85L616.45 347.59L617.15 348.36L617.85 349.15L618.55 349.92L619.25 350.65L619.94 351.30L620.64 351.84L621.34 352.27L622.04 352.55L622.74 352.69L623.44 352.67L624.13 352.50L624.83 352.17L625.53 351.72L626.23 351.14L626.93 350.47L627.63 349.73L628.33 348.95L629.02 348.17L629.72 347.40L630.42 346.68L631.12 346.04L631.82 345.51L632.52 345.10L633.21 344.83L633.91 344.71L634.61 344.74L635.31 344.93L636.01 345.27L636.71 345.74L637.40 346.33L638.10 347.00L638.80 347.75L639.50 348.53" fill="none" stroke="#9c3236" stroke-width="2.1"/>
<polygon points="523.00,338.80 525.35,342.57 529.47,340.90 529.15,345.33 533.46,346.40 530.60,349.80 533.46,353.20 529.15,354.27 529.47,358.70 525.35,357.03 523.00,360.80 520.65,357.03 516.53,358.70 516.85,354.27 512.54,353.20 515.40,349.80 512.54,346.40 516.85,345.33 516.53,340.90 520.65,342.57" fill="#e2c45e" stroke="#b89c3c" stroke-width="0.8" stroke-linejoin="miter"/>
<polygon points="570.00,338.80 572.35,342.57 576.47,340.90 576.15,345.33 580.46,346.40 577.60,349.80 580.46,353.20 576.15,354.27 576.47,358.70 572.35,357.03 570.00,360.80 567.65,357.03 563.53,358.70 563.85,354.27 559.54,353.20 562.40,349.80 559.54,346.40 563.85,345.33 563.53,340.90 567.65,342.57" fill="#e2c45e" stroke="#b89c3c" stroke-width="0.8" stroke-linejoin="miter"/>
<polygon points="617.00,338.80 619.35,342.57 623.47,340.90 623.15,345.33 627.46,346.40 624.60,349.80 627.46,353.20 623.15,354.27 623.47,358.70 619.35,357.03 617.00,360.80 614.65,357.03 610.53,358.70 610.85,354.27 606.54,353.20 609.40,349.80 606.54,346.40 610.85,345.33 610.53,340.90 614.65,342.57" fill="#e2c45e" stroke="#b89c3c" stroke-width="0.8" stroke-linejoin="miter"/>
<text x="547.60" y="380.50" font-size="16" fill="#1f1c1d" font-weight="bold" textLength="34.1" lengthAdjust="spacingAndGlyphs">DNA</text>
<text x="547.60" y="396.40" font-size="16" fill="#1f1c1d" font-weight="bold" textLength="57.4" lengthAdjust="spacingAndGlyphs">damage</text>
<line x1="571.60" y1="408.30" x2="571.60" y2="439.50" stroke="#3c454d" stroke-width="2.1"/>
<path d="M571.60 447.20L575.80 438.00L571.60 439.20L567.40 438.00Z" fill="#3c454d"/>
<text x="547.60" y="470.20" font-size="16" fill="#1f1c1d" font-weight="bold" textLength="81.5" lengthAdjust="spacingAndGlyphs">Unrepaired</text>
<text x="547.60" y="486.80" font-size="16" fill="#1f1c1d" font-weight="bold" textLength="57.4" lengthAdjust="spacingAndGlyphs">damage</text>
<path d="M457.70 479.00H513.70Q524.70 479.00 530.70 487.00L552.00 513.50" fill="none" stroke="#9c3236" stroke-width="2.1"/>
<path d="M462.70 542.00H516.70Q528.70 542.00 534.70 534.50L552.00 512.50" fill="none" stroke="#2d5da3" stroke-width="2.1"/>
<line x1="461.30" y1="534.80" x2="516.70" y2="534.80" stroke="#9c3236" stroke-width="2.1"/>
<path d="M523.00 534.80L515.40 531.50L516.40 534.80L515.40 538.10Z" fill="#9c3236"/>
<line x1="481.60" y1="487.50" x2="468.20" y2="487.50" stroke="#2d5da3" stroke-width="2.3"/>
<path d="M461.90 487.50L469.50 490.90L468.50 487.50L469.50 484.10Z" fill="#2d5da3"/>
<line x1="507.30" y1="487.50" x2="493.90" y2="487.50" stroke="#2d5da3" stroke-width="2.3"/>
<path d="M487.60 487.50L495.20 490.90L494.20 487.50L495.20 484.10Z" fill="#2d5da3"/>
<line x1="532.60" y1="503.00" x2="523.28" y2="492.92" stroke="#2d5da3" stroke-width="2.3"/>
<path d="M519.00 488.30L521.67 496.19L523.48 493.14L526.66 491.57Z" fill="#2d5da3"/>
<path d="M551.20 513.44L551.89 512.81L552.59 512.09L553.28 511.33L553.97 510.55L554.67 509.78L555.36 509.04L556.05 508.37L556.74 507.80L557.44 507.34L558.13 507.02L558.82 506.84L559.52 506.81L560.21 506.93L560.90 507.20L561.60 507.62L562.29 508.15L562.98 508.78L563.68 509.50L564.37 510.26L565.06 511.04L565.76 511.81L566.45 512.55L567.14 513.22L567.83 513.79L568.53 514.25L569.22 514.58L569.91 514.76L570.61 514.79L571.30 514.67L571.99 514.40L572.69 513.99L573.38 513.46L574.07 512.83L574.77 512.12L575.46 511.35L576.15 510.57L576.84 509.80L577.54 509.06L578.23 508.39L578.92 507.82L579.62 507.35L580.31 507.02L581.00 506.84L581.70 506.81L582.39 506.93L583.08 507.19L583.78 507.60L584.47 508.13L585.16 508.76L585.86 509.47L586.55 510.23L587.24 511.02L587.93 511.79L588.63 512.53L589.32 513.20L590.01 513.78L590.71 514.24L591.40 514.57L592.09 514.76L592.79 514.79L593.48 514.68L594.17 514.41L594.87 514.01L595.56 513.48L596.25 512.85L596.94 512.14L597.64 511.38L598.33 510.60L599.02 509.82L599.72 509.08L600.41 508.41L601.10 507.83L601.80 507.37L602.49 507.03L603.18 506.84L603.88 506.80L604.57 506.92L605.26 507.18L605.96 507.59L606.65 508.11L607.34 508.74L608.03 509.45L608.73 510.21L609.42 510.99L610.11 511.77L610.81 512.51L611.50 513.18" fill="none" stroke="#2d5da3" stroke-width="2.1"/>
<path d="M551.20 511.30L551.89 511.98L552.59 512.58L553.28 513.06L553.97 513.42L554.67 513.64L555.36 513.70L556.05 513.61L556.74 513.37L557.44 512.99L558.13 512.48L558.82 511.87L559.52 511.17L560.21 510.42L560.90 509.64L561.60 508.86L562.29 508.11L562.98 507.43L563.68 506.83L564.37 506.34L565.06 505.98L565.76 505.77L566.45 505.70L567.14 505.79L567.83 506.03L568.53 506.40L569.22 506.91L569.91 507.52L570.61 508.22L571.30 508.97L571.99 509.75L572.69 510.53L573.38 511.27L574.07 511.96L574.77 512.56L575.46 513.05L576.15 513.41L576.84 513.63L577.54 513.70L578.23 513.61L578.92 513.38L579.62 513.00L580.31 512.50L581.00 511.89L581.70 511.20L582.39 510.44L583.08 509.66L583.78 508.88L584.47 508.14L585.16 507.45L585.86 506.85L586.55 506.36L587.24 505.99L587.93 505.77L588.63 505.70L589.32 505.78L590.01 506.02L590.71 506.39L591.40 506.89L592.09 507.50L592.79 508.19L593.48 508.95L594.17 509.73L594.87 510.50L595.56 511.25L596.25 511.94L596.94 512.54L597.64 513.04L598.33 513.40L599.02 513.63L599.72 513.70L600.41 513.62L601.10 513.39L601.80 513.02L602.49 512.52L603.18 511.91L603.88 511.22L604.57 510.47L605.26 509.69L605.96 508.91L606.65 508.16L607.34 507.47L608.03 506.86L608.73 506.37L609.42 506.00L610.11 505.78L610.81 505.70L611.50 505.78" fill="none" stroke="#9c3236" stroke-width="2.1"/>
<polygon points="560.30,499.80 562.65,503.57 566.77,501.90 566.45,506.33 570.76,507.40 567.90,510.80 570.76,514.20 566.45,515.27 566.77,519.70 562.65,518.03 560.30,521.80 557.95,518.03 553.83,519.70 554.15,515.27 549.84,514.20 552.70,510.80 549.84,507.40 554.15,506.33 553.83,501.90 557.95,503.57" fill="#e2c45e" stroke="#b89c3c" stroke-width="0.8" stroke-linejoin="miter"/>
<text x="457.20" y="565.00" font-size="15.34" fill="#1f1c1d" textLength="78.7" lengthAdjust="spacingAndGlyphs">Stalled fork</text>
<path d="M512.00 640.30H571.00Q579.00 640.30 584.00 647.00L604.60 673.90" fill="none" stroke="#9c3236" stroke-width="2.1"/>
<path d="M515.20 652.40H577.30L591.70 669.10H538.70" fill="none" stroke="#2d5da3" stroke-width="2.1" stroke-linejoin="miter"/>
<path d="M537.20 678.50H594.80L578.90 695.50H515.20" fill="none" stroke="#9c3236" stroke-width="2.1" stroke-linejoin="miter"/>
<path d="M515.20 704.00H574.00Q582.00 704.00 587.00 697.00L604.60 673.90" fill="none" stroke="#2d5da3" stroke-width="2.1"/>
<path d="M604.40 676.07L605.10 675.80L605.79 675.39L606.49 674.85L607.19 674.21L607.88 673.50L608.58 672.73L609.28 671.94L609.97 671.17L610.67 670.43L611.37 669.76L612.06 669.19L612.76 668.73L613.46 668.41L614.15 668.23L614.85 668.21L615.54 668.34L616.24 668.62L616.94 669.04L617.63 669.59L618.33 670.23L619.03 670.95L619.72 671.72L620.42 672.51L621.12 673.28L621.81 674.01L622.51 674.68L623.21 675.24L623.90 675.69L624.60 676.01L625.30 676.17L625.99 676.19L626.69 676.04L627.39 675.75L628.08 675.32L628.78 674.77L629.48 674.13L630.17 673.40L630.87 672.63L631.57 671.84L632.26 671.07L632.96 670.34L633.66 669.68L634.35 669.12L635.05 668.68L635.74 668.38L636.44 668.22L637.14 668.22L637.83 668.37L638.53 668.67L639.23 669.11L639.92 669.66L640.62 670.32L641.32 671.05L642.01 671.82L642.71 672.61L643.41 673.38L644.10 674.10L644.80 674.76L645.50 675.31L646.19 675.74L646.89 676.04L647.59 676.18L648.28 676.18L648.98 676.01L649.68 675.71L650.37 675.26L651.07 674.70L651.77 674.04L652.46 673.30L653.16 672.53L653.86 671.74L654.55 670.97L655.25 670.25L655.94 669.60L656.64 669.06L657.34 668.63L658.03 668.35L658.73 668.21L659.43 668.23L660.12 668.40L660.82 668.72L661.52 669.17L662.21 669.74L662.91 670.41L663.61 671.14L664.30 671.92L665.00 672.71" fill="none" stroke="#2d5da3" stroke-width="2.1"/>
<path d="M604.40 670.62L605.10 671.40L605.79 672.17L606.49 672.89L607.19 673.53L607.88 674.07L608.58 674.49L609.28 674.76L609.97 674.89L610.67 674.86L611.37 674.68L612.06 674.36L612.76 673.90L613.46 673.32L614.15 672.65L614.85 671.91L615.54 671.13L616.24 670.35L616.94 669.58L617.63 668.87L618.33 668.23L619.03 667.70L619.72 667.29L620.42 667.02L621.12 666.91L621.81 666.94L622.51 667.13L623.21 667.47L623.90 667.94L624.60 668.52L625.30 669.20L625.99 669.94L626.69 670.72L627.39 671.50L628.08 672.27L628.78 672.98L629.48 673.61L630.17 674.13L630.87 674.53L631.57 674.79L632.26 674.90L632.96 674.85L633.66 674.65L634.35 674.31L635.05 673.83L635.74 673.24L636.44 672.56L637.14 671.81L637.83 671.03L638.53 670.25L639.23 669.48L639.92 668.78L640.62 668.16L641.32 667.64L642.01 667.25L642.71 667.00L643.41 666.90L644.10 666.96L644.80 667.17L645.50 667.52L646.19 668.01L646.89 668.60L647.59 669.29L648.28 670.04L648.98 670.82L649.68 671.60L650.37 672.36L651.07 673.06L651.77 673.68L652.46 674.19L653.16 674.57L653.86 674.81L654.55 674.90L655.25 674.83L655.94 674.61L656.64 674.25L657.34 673.76L658.03 673.15L658.73 672.46L659.43 671.71L660.12 670.93L660.82 670.15L661.52 669.39L662.21 668.69L662.91 668.08L663.61 667.58L664.30 667.21L665.00 666.98" fill="none" stroke="#9c3236" stroke-width="2.1"/>
<polygon points="613.90,661.50 616.25,665.27 620.37,663.60 620.05,668.03 624.36,669.10 621.50,672.50 624.36,675.90 620.05,676.97 620.37,681.40 616.25,679.73 613.90,683.50 611.55,679.73 607.43,681.40 607.75,676.97 603.44,675.90 606.30,672.50 603.44,669.10 607.75,668.03 607.43,663.60 611.55,665.27" fill="#e2c45e" stroke="#b89c3c" stroke-width="0.8" stroke-linejoin="miter"/>
<text x="514.00" y="722.50" font-size="15.33" fill="#1f1c1d" textLength="86.4" lengthAdjust="spacingAndGlyphs">Fork reversal</text>
<line x1="503.30" y1="736.40" x2="481.44" y2="758.26" stroke="#3c454d" stroke-width="2.1"/>
<path d="M476.00 763.70L485.48 760.16L481.66 758.04L479.54 754.22Z" fill="#3c454d"/>
<line x1="491.2" y1="736" x2="491.2" y2="760.3" stroke="#7d2629" stroke-width="1.8"/>
<line x1="479" y1="748.5" x2="504" y2="748.5" stroke="#7d2629" stroke-width="1.8"/>
<line x1="603.50" y1="736.40" x2="626.08" y2="758.33" stroke="#3c454d" stroke-width="2.1"/>
<path d="M631.60 763.70L627.93 754.28L625.86 758.13L622.07 760.30Z" fill="#3c454d"/>
<path d="M375.80 782.60H434.80Q442.80 782.60 447.80 789.30L468.40 816.20" fill="none" stroke="#9c3236" stroke-width="2.1"/>
<path d="M379.00 794.70H441.10L455.50 811.40H411.80" fill="none" stroke="#2d5da3" stroke-width="2.1" stroke-linejoin="miter"/>
<path d="M438.00 820.80H458.60L442.70 837.80H379.00" fill="none" stroke="#9c3236" stroke-width="2.1" stroke-linejoin="miter"/>
<path d="M379.00 846.30H437.80Q445.80 846.30 450.80 839.30L468.40 816.20" fill="none" stroke="#2d5da3" stroke-width="2.1"/>
<path d="M468.80 816.29L469.49 815.62L470.19 814.88L470.88 814.10L471.58 813.31L472.27 812.54L472.97 811.82L473.66 811.17L474.35 810.61L475.05 810.18L475.74 809.88L476.44 809.72L477.13 809.72L477.82 809.87L478.52 810.16L479.21 810.59L479.91 811.14L480.60 811.78L481.30 812.51L481.99 813.28L482.68 814.07L483.38 814.85L484.07 815.59L484.77 816.26L485.46 816.84L486.15 817.31L486.85 817.65L487.54 817.85L488.24 817.90L488.93 817.79L489.63 817.54L490.32 817.14L491.01 816.63L491.71 816.00L492.40 815.30L493.10 814.54L493.79 813.75L494.48 812.97L495.18 812.21L495.87 811.52L496.57 810.91L497.26 810.40L497.96 810.03L498.65 809.79L499.34 809.70L500.04 809.76L500.73 809.98L501.43 810.33L502.12 810.82L502.82 811.41L503.51 812.10L504.20 812.84L504.90 813.63L505.59 814.42L506.29 815.18L506.98 815.90L507.67 816.53L508.37 817.07L509.06 817.48L509.76 817.76L510.45 817.89L511.15 817.87L511.84 817.70L512.53 817.38L513.23 816.93L513.92 816.36L514.62 815.70L515.31 814.97L516.00 814.19L516.70 813.40L517.39 812.63L518.09 811.90L518.78 811.23L519.48 810.67L520.17 810.22L520.86 809.90L521.56 809.73L522.25 809.71L522.95 809.84L523.64 810.12L524.33 810.53L525.03 811.07L525.72 811.71L526.42 812.42L527.11 813.19L527.81 813.98L528.50 814.76" fill="none" stroke="#2d5da3" stroke-width="2.1"/>
<path d="M468.80 814.62L469.49 815.26L470.19 815.81L470.88 816.24L471.58 816.54L472.27 816.68L472.97 816.68L473.66 816.52L474.35 816.22L475.05 815.79L475.74 815.23L476.44 814.58L477.13 813.86L477.82 813.08L478.52 812.29L479.21 811.52L479.91 810.78L480.60 810.11L481.30 809.53L481.99 809.06L482.68 808.73L483.38 808.54L484.07 808.50L484.77 808.62L485.46 808.88L486.15 809.28L486.85 809.80L487.54 810.43L488.24 811.14L488.93 811.90L489.63 812.69L490.32 813.47L491.01 814.22L491.71 814.92L492.40 815.52L493.10 816.02L493.79 816.39L494.48 816.62L495.18 816.70L495.87 816.63L496.57 816.41L497.26 816.04L497.96 815.55L498.65 814.95L499.34 814.27L500.04 813.52L500.73 812.73L501.43 811.95L502.12 811.18L502.82 810.47L503.51 809.84L504.20 809.31L504.90 808.90L505.59 808.63L506.29 808.51L506.98 808.54L507.67 808.72L508.37 809.04L509.06 809.50L509.76 810.07L510.45 810.73L511.15 811.47L511.84 812.25L512.53 813.04L513.23 813.81L513.92 814.54L514.62 815.20L515.31 815.76L516.00 816.20L516.70 816.51L517.39 816.67L518.09 816.69L518.78 816.55L519.48 816.26L520.17 815.84L520.86 815.30L521.56 814.66L522.25 813.94L522.95 813.17L523.64 812.38L524.33 811.60L525.03 810.86L525.72 810.18L526.42 809.59L527.11 809.11L527.81 808.76L528.50 808.56" fill="none" stroke="#9c3236" stroke-width="2.1"/>
<circle cx="420.00" cy="823.20" r="8.9" fill="#5a8fcf" stroke="#4677b6" stroke-width="0.8"/>
<circle cx="407.50" cy="814.80" r="8.9" fill="#5a8fcf" stroke="#4677b6" stroke-width="0.8"/>
<circle cx="432.30" cy="814.80" r="8.9" fill="#5a8fcf" stroke="#4677b6" stroke-width="0.8"/>
<rect x="417.5" y="812" width="5" height="1.6" fill="#e8f0fa"/>
<text x="377.00" y="864.20" font-size="15.29" fill="#1f1c1d" textLength="118.0" lengthAdjust="spacingAndGlyphs">Fork stabilization</text>
<text x="377.00" y="881.70" font-size="15.58" fill="#1f1c1d" textLength="106.6" lengthAdjust="spacingAndGlyphs">and DNA repair</text>
<path d="M596 781.4H648" fill="none" stroke="#9c3236" stroke-width="2.1"/>
<path d="M599 793.8H652" fill="none" stroke="#2d5da3" stroke-width="2.1"/>
<path d="M665 783.2L678.3 801.4" fill="none" stroke="#9c3236" stroke-width="2.1"/>
<path d="M665.5 799.7L675.9 811" fill="none" stroke="#2d5da3" stroke-width="2.1"/>
<path d="M599 837.2H663.1L677.6 821.7" fill="none" stroke="#9c3236" stroke-width="2.1" stroke-linejoin="miter"/>
<path d="M599 845.2H663Q668 845.2 672 840L681 829" fill="none" stroke="#2d5da3" stroke-width="2.1"/>
<path d="M652.60 791.90L641.61 787.28A13.50 13.50 0 1 1 643.24 799.64Z" fill="#e3a2a7" stroke="#c7858b" stroke-width="0.8"/>
<path d="M643.40 833.80L632.83 829.44A13.40 13.40 0 1 1 634.80 841.86Z" fill="#e3a2a7" stroke="#c7858b" stroke-width="0.8"/>
<line x1="683.4" y1="791.4" x2="667.2" y2="813.4" stroke="#2a2a2a" stroke-width="0.9"/>
<line x1="667.2" y1="821.4" x2="688.6" y2="838.6" stroke="#2a2a2a" stroke-width="0.9"/>
<text x="696.80" y="794.50" font-size="16.34" fill="#1f1c1d" textLength="34.9" lengthAdjust="spacingAndGlyphs">DSBs</text>
<line x1="697.4" y1="801.5" x2="697.4" y2="828.9" stroke="#222" stroke-width="1.1"/>
<path d="M698.00 810.31L698.70 810.33L699.39 810.50L700.09 810.82L700.79 811.29L701.49 811.87L702.18 812.56L702.88 813.31L703.58 814.10L704.28 814.90L704.97 815.68L705.67 816.40L706.37 817.04L707.06 817.57L707.76 817.96L708.46 818.21L709.16 818.30L709.85 818.23L710.55 818.00L711.25 817.62L711.95 817.11L712.64 816.49L713.34 815.77L714.04 815.00L714.74 814.20L715.43 813.41L716.13 812.65L716.83 811.95L717.52 811.35L718.22 810.87L718.92 810.53L719.62 810.34L720.31 810.31L721.01 810.44L721.71 810.72L722.41 811.15L723.10 811.71L723.80 812.37L724.50 813.10L725.19 813.89L725.89 814.69L726.59 815.48L727.29 816.22L727.98 816.88L728.68 817.44L729.38 817.87L730.08 818.16L730.77 818.29L731.47 818.26L732.17 818.08L732.86 817.74L733.56 817.26L734.26 816.66L734.96 815.97L735.65 815.21L736.35 814.41L737.05 813.61L737.75 812.84L738.44 812.13L739.14 811.50L739.84 810.99L740.54 810.61L741.23 810.37L741.93 810.30L742.63 810.39L743.32 810.63L744.02 811.02L744.72 811.55L745.42 812.18L746.11 812.90L746.81 813.68L747.51 814.48L748.21 815.28L748.90 816.03L749.60 816.72" fill="none" stroke="#2d5da3" stroke-width="2.1"/>
<path d="M698.00 814.31L698.70 813.54L699.39 812.74L700.09 811.94L700.78 811.19L701.48 810.50L702.18 809.91L702.87 809.44L703.57 809.11L704.26 808.93L704.96 808.91L705.65 809.05L706.35 809.34L707.05 809.78L707.74 810.34L708.44 811.01L709.13 811.75L709.83 812.53L710.53 813.33L711.22 814.12L711.92 814.85L712.61 815.51L713.31 816.06L714.01 816.48L714.70 816.77L715.40 816.89L716.09 816.86L716.79 816.67L717.48 816.32L718.18 815.84L718.88 815.24L719.57 814.55L720.27 813.79L720.96 813.00L721.66 812.20L722.36 811.43L723.05 810.72L723.75 810.09L724.44 809.58L725.14 809.20L725.84 808.97L726.53 808.90L727.23 808.99L727.92 809.23L728.62 809.62L729.32 810.15L730.01 810.78L730.71 811.50L731.40 812.27L732.10 813.07L732.79 813.86L733.49 814.62L734.19 815.30L734.88 815.89L735.58 816.36L736.27 816.69L736.97 816.87L737.67 816.89L738.36 816.75L739.06 816.45L739.75 816.01L740.45 815.45L741.15 814.79L741.84 814.05L742.54 813.26L743.23 812.46L743.93 811.68L744.62 810.94L745.32 810.29L746.02 809.74L746.71 809.31L747.41 809.03L748.10 808.91L748.80 808.94" fill="none" stroke="#9c3236" stroke-width="2.1"/>
<text x="597.40" y="864.20" font-size="15.3" fill="#1f1c1d" textLength="101.6" lengthAdjust="spacingAndGlyphs">Fork instability</text>
<text x="597.40" y="881.70" font-size="15.2" fill="#1f1c1d" textLength="117.5" lengthAdjust="spacingAndGlyphs">and fork collapse</text>
<path d="M376.50 986.50H432.50Q443.50 986.50 449.50 994.50L470.80 1021.00" fill="none" stroke="#9c3236" stroke-width="2.1"/>
<path d="M381.50 1049.50H435.50Q447.50 1049.50 453.50 1042.00L470.80 1020.00" fill="none" stroke="#2d5da3" stroke-width="2.1"/>
<line x1="380.10" y1="1042.30" x2="435.50" y2="1042.30" stroke="#9c3236" stroke-width="2.1"/>
<path d="M441.80 1042.30L434.20 1039.00L435.20 1042.30L434.20 1045.60Z" fill="#9c3236"/>
<line x1="400.40" y1="995.00" x2="387.00" y2="995.00" stroke="#2d5da3" stroke-width="2.3"/>
<path d="M380.70 995.00L388.30 998.40L387.30 995.00L388.30 991.60Z" fill="#2d5da3"/>
<line x1="426.10" y1="995.00" x2="412.70" y2="995.00" stroke="#2d5da3" stroke-width="2.3"/>
<path d="M406.40 995.00L414.00 998.40L413.00 995.00L414.00 991.60Z" fill="#2d5da3"/>
<line x1="451.40" y1="1010.50" x2="442.08" y2="1000.42" stroke="#2d5da3" stroke-width="2.3"/>
<path d="M437.80 995.80L440.47 1003.69L442.28 1000.64L445.46 999.07Z" fill="#2d5da3"/>
<path d="M470.00 1020.94L470.70 1020.30L471.39 1019.59L472.09 1018.82L472.78 1018.04L473.48 1017.26L474.17 1016.53L474.87 1015.86L475.56 1015.29L476.26 1014.83L476.95 1014.51L477.65 1014.33L478.34 1014.31L479.04 1014.44L479.73 1014.72L480.43 1015.14L481.13 1015.68L481.82 1016.32L482.52 1017.04L483.21 1017.80L483.91 1018.59L484.60 1019.37L485.30 1020.10L485.99 1020.76L486.69 1021.33L487.38 1021.78L488.08 1022.10L488.77 1022.27L489.47 1022.29L490.17 1022.15L490.86 1021.87L491.56 1021.44L492.25 1020.90L492.95 1020.25L493.64 1019.53L494.34 1018.77L495.03 1017.98L495.73 1017.21L496.42 1016.48L497.12 1015.81L497.81 1015.25L498.51 1014.80L499.20 1014.49L499.90 1014.33L500.60 1014.31L501.29 1014.46L501.99 1014.75L502.68 1015.17L503.38 1015.72L504.07 1016.37L504.77 1017.09L505.46 1017.86L506.16 1018.65L506.85 1019.42L507.55 1020.15L508.24 1020.81L508.94 1021.37L509.63 1021.81L510.33 1022.12L511.03 1022.28L511.72 1022.28L512.42 1022.14L513.11 1021.84L513.81 1021.41L514.50 1020.85L515.20 1020.20L515.89 1019.48L516.59 1018.71L517.28 1017.92L517.98 1017.15L518.67 1016.42L519.37 1015.77L520.07 1015.21L520.76 1014.78L521.46 1014.47L522.15 1014.32L522.85 1014.32L523.54 1014.47L524.24 1014.77L524.93 1015.21L525.63 1015.77L526.32 1016.42L527.02 1017.15L527.71 1017.92L528.41 1018.71L529.10 1019.48L529.80 1020.20" fill="none" stroke="#2d5da3" stroke-width="2.1"/>
<path d="M470.00 1018.80L470.70 1019.48L471.39 1020.08L472.09 1020.57L472.78 1020.92L473.48 1021.14L474.17 1021.20L474.87 1021.11L475.56 1020.86L476.26 1020.48L476.95 1019.96L477.65 1019.35L478.34 1018.64L479.04 1017.89L479.73 1017.10L480.43 1016.32L481.13 1015.58L481.82 1014.89L482.52 1014.30L483.21 1013.82L483.91 1013.46L484.60 1013.26L485.30 1013.20L485.99 1013.30L486.69 1013.55L487.38 1013.94L488.08 1014.46L488.77 1015.08L489.47 1015.78L490.17 1016.54L490.86 1017.33L491.56 1018.10L492.25 1018.85L492.95 1019.53L493.64 1020.12L494.34 1020.60L495.03 1020.95L495.73 1021.15L496.42 1021.20L497.12 1021.09L497.81 1020.84L498.51 1020.44L499.20 1019.92L499.90 1019.30L500.60 1018.59L501.29 1017.83L501.99 1017.05L502.68 1016.27L503.38 1015.52L504.07 1014.85L504.77 1014.26L505.46 1013.79L506.16 1013.44L506.85 1013.25L507.55 1013.20L508.24 1013.31L508.94 1013.57L509.63 1013.97L510.33 1014.50L511.03 1015.13L511.72 1015.84L512.42 1016.60L513.11 1017.38L513.81 1018.16L514.50 1018.90L515.20 1019.58L515.89 1020.16L516.59 1020.63L517.28 1020.97L517.98 1021.16L518.67 1021.20L519.37 1021.08L520.07 1020.81L520.76 1020.41L521.46 1019.88L522.15 1019.25L522.85 1018.54L523.54 1017.77L524.24 1016.99L524.93 1016.21L525.63 1015.47L526.32 1014.80L527.02 1014.22L527.71 1013.76L528.41 1013.42L529.10 1013.24L529.80 1013.21" fill="none" stroke="#9c3236" stroke-width="2.1"/>
<text x="382.40" y="1069.30" font-size="15.34" fill="#1f1c1d" textLength="78.6" lengthAdjust="spacingAndGlyphs">Fork restart</text>
<path d="M614.2 1004.5C616 984 636 967.3 660.2 967.3C684 967.3 704 984 706.2 1004.3" fill="none" stroke="#6f9cc4" stroke-width="1.1"/>
<path d="M614.2 1004.5C616 1025 636 1041.4 660.2 1041.4C684 1041.4 704 1025 706.2 1004.3" fill="none" stroke="#6f9cc4" stroke-width="1.1"/>
<path d="M614.2 1004.5C624 996 642 990.9 660.2 990.9C678 990.9 696 996 706.2 1004.3" fill="none" stroke="#6f9cc4" stroke-width="1.1"/>
<path d="M614.2 1004.5C624 1013 642 1018 660.2 1018C678 1018 696 1013 706.2 1004.3" fill="none" stroke="#6f9cc4" stroke-width="1.1"/>
<line x1="614.20" y1="1004.4" x2="610.96" y2="992.33" stroke="#6aa5d8" stroke-width="0.8"/>
<line x1="614.20" y1="1004.4" x2="607.03" y2="994.16" stroke="#6aa5d8" stroke-width="0.8"/>
<line x1="614.20" y1="1004.4" x2="603.96" y2="997.23" stroke="#6aa5d8" stroke-width="0.8"/>
<line x1="614.20" y1="1004.4" x2="601.97" y2="1001.80" stroke="#6aa5d8" stroke-width="0.8"/>
<line x1="614.20" y1="1004.4" x2="601.97" y2="1007.00" stroke="#6aa5d8" stroke-width="0.8"/>
<line x1="614.20" y1="1004.4" x2="603.96" y2="1011.57" stroke="#6aa5d8" stroke-width="0.8"/>
<line x1="614.20" y1="1004.4" x2="607.03" y2="1014.64" stroke="#6aa5d8" stroke-width="0.8"/>
<line x1="614.20" y1="1004.4" x2="610.96" y2="1016.47" stroke="#6aa5d8" stroke-width="0.8"/>
<circle cx="614.20" cy="1004.4" r="3.5" fill="#9fd0f1" stroke="#5a96c8" stroke-width="0.8"/>
<line x1="706.20" y1="1004.4" x2="709.44" y2="992.33" stroke="#6aa5d8" stroke-width="0.8"/>
<line x1="706.20" y1="1004.4" x2="713.37" y2="994.16" stroke="#6aa5d8" stroke-width="0.8"/>
<line x1="706.20" y1="1004.4" x2="716.44" y2="997.23" stroke="#6aa5d8" stroke-width="0.8"/>
<line x1="706.20" y1="1004.4" x2="718.43" y2="1001.80" stroke="#6aa5d8" stroke-width="0.8"/>
<line x1="706.20" y1="1004.4" x2="718.43" y2="1007.00" stroke="#6aa5d8" stroke-width="0.8"/>
<line x1="706.20" y1="1004.4" x2="716.44" y2="1011.57" stroke="#6aa5d8" stroke-width="0.8"/>
<line x1="706.20" y1="1004.4" x2="713.37" y2="1014.64" stroke="#6aa5d8" stroke-width="0.8"/>
<line x1="706.20" y1="1004.4" x2="709.44" y2="1016.47" stroke="#6aa5d8" stroke-width="0.8"/>
<circle cx="706.20" cy="1004.4" r="3.5" fill="#9fd0f1" stroke="#5a96c8" stroke-width="0.8"/>
<path d="M647.90 1017.60L647.60 997.30C647.80 993.50 641.20 993.50 641.40 997.30L643.20 1014.60Q644.60 1018.10 642.60 1021.60C639.30 1026.60 637.60 1040.40 638.00 1047.40C638.40 1053.20 647.40 1053.20 647.40 1046.40C646.40 1036.40 646.20 1025.60 647.90 1020.60Z" fill="#bcc2de" stroke="#a5acce" stroke-width="0.7"/>
<path d="M649.70 1017.60L650.00 997.30C649.80 993.50 656.40 993.50 656.20 997.30L654.40 1014.60Q653.00 1018.10 655.00 1021.60C658.30 1026.60 660.00 1040.40 659.60 1047.40C659.20 1053.20 650.20 1053.20 650.20 1046.40C651.20 1036.40 651.40 1025.60 649.70 1020.60Z" fill="#bcc2de" stroke="#a5acce" stroke-width="0.7"/>
<ellipse cx="648.80" cy="1018.10" rx="3.6" ry="3" fill="#c9b55e" opacity="0.6"/>
<circle cx="648.80" cy="999.60" r="1.3" fill="#d8c870" stroke="#a89545" stroke-width="0.5"/>
<circle cx="648.80" cy="1016.00" r="1.3" fill="#d8c870" stroke="#a89545" stroke-width="0.5"/>
<circle cx="648.80" cy="1019.30" r="1.3" fill="#d8c870" stroke="#a89545" stroke-width="0.5"/>
<circle cx="648.80" cy="1043.00" r="1.3" fill="#d8c870" stroke="#a89545" stroke-width="0.5"/>
<path d="M671.20 990.60L670.90 970.30C671.10 966.50 664.50 966.50 664.70 970.30L666.50 987.60Q667.90 991.10 665.90 994.60C662.60 999.60 660.90 1014.20 661.30 1021.20C661.70 1027.00 670.70 1027.00 670.70 1020.20C669.70 1010.20 669.50 998.60 671.20 993.60Z" fill="#7c88ab" stroke="#66729a" stroke-width="0.7"/>
<path d="M673.00 990.60L673.30 970.30C673.10 966.50 679.70 966.50 679.50 970.30L677.70 987.60Q676.30 991.10 678.30 994.60C681.60 999.60 683.30 1014.20 682.90 1021.20C682.50 1027.00 673.50 1027.00 673.50 1020.20C674.50 1010.20 674.70 998.60 673.00 993.60Z" fill="#7c88ab" stroke="#66729a" stroke-width="0.7"/>
<ellipse cx="672.10" cy="991.10" rx="3.6" ry="3" fill="#c9b55e" opacity="0.6"/>
<circle cx="672.10" cy="973.50" r="1.3" fill="#d8c870" stroke="#a89545" stroke-width="0.5"/>
<circle cx="672.10" cy="990.20" r="1.3" fill="#d8c870" stroke="#a89545" stroke-width="0.5"/>
<circle cx="672.10" cy="993.50" r="1.3" fill="#d8c870" stroke="#a89545" stroke-width="0.5"/>
<circle cx="672.10" cy="1016.80" r="1.3" fill="#d8c870" stroke="#a89545" stroke-width="0.5"/>
<text x="594.70" y="1069.10" font-size="15.28" fill="#1f1c1d" textLength="133.3" lengthAdjust="spacingAndGlyphs">Genomic instability</text>
<line x1="662.50" y1="1079.80" x2="662.50" y2="1110.30" stroke="#3c454d" stroke-width="2.1"/>
<path d="M662.50 1118.00L666.70 1108.80L662.50 1110.00L658.30 1108.80Z" fill="#3c454d"/>
<rect x="616.50" y="1122.60" width="89.40" height="23.20" fill="#963334"/>
<text x="661.20" y="1139.70" font-size="16.5" fill="#fff" font-weight="bold" text-anchor="middle" textLength="76.0" lengthAdjust="spacingAndGlyphs">Cell death</text>
</svg></body></html>
